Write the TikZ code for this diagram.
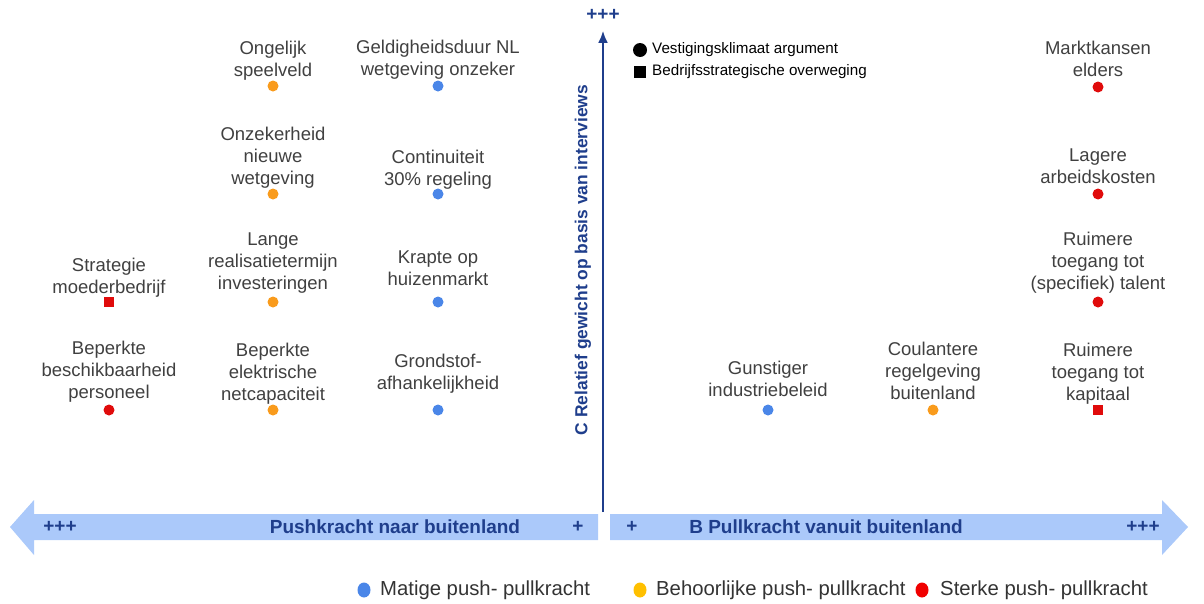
\documentclass[tikz,border=0pt]{standalone}
\usepackage{fontspec}
\setmainfont{Liberation Sans}
\usetikzlibrary{arrows.meta,shapes.geometric}
\definecolor{navy}{HTML}{1F3E8C}
\definecolor{textgray}{HTML}{404040}
\definecolor{matig}{HTML}{4A86E8}
\definecolor{behoorlijk}{HTML}{F99B1C}
\definecolor{sterk}{HTML}{E00B0B}
\definecolor{legyellow}{HTML}{FFC000}
\definecolor{legred}{HTML}{F00000}
\definecolor{arrowfill}{HTML}{ABC9FA}

\begin{document}
\begin{tikzpicture}[x=1pt,y=-1pt,
    factor/.style={anchor=south,align=center,text=textgray,inner sep=1pt,
        font=\fontsize{18.5}{22}\selectfont},
    dot/.style={circle,fill=#1,inner sep=0pt,minimum size=11pt},
    sq/.style={rectangle,fill=#1,inner sep=0pt,minimum size=10pt},
    legdot/.style={ellipse,fill=#1,inner sep=0pt,minimum width=13pt,minimum height=15pt},
    axislabel/.style={text=navy,font=\bfseries\fontsize{19}{22}\selectfont,inner sep=1pt},
    keytext/.style={anchor=west,inner sep=0pt,font=\fontsize{15.2}{17}\selectfont},
    legtext/.style={anchor=west,inner sep=0pt,text=black!80,font=\fontsize{20.3}{23}\selectfont}]
\useasboundingbox (0,0) rectangle (1204,603);

% horizontal arrows
\fill[arrowfill] (34,514) -- (598,514) -- (598,540) -- (34,540) -- (34,555) -- (10,527) -- (34,500) -- cycle;
\fill[arrowfill] (610,514) -- (1162,514) -- (1162,500) -- (1188,527) -- (1162,555) -- (1162,540) -- (610,540) -- cycle;
\node[axislabel] (lpp) at (60,527) {+++};
\node[axislabel] (push) at (395,527) {Pushkracht naar buitenland};
\node[axislabel] (lp) at (578,527) {+};
\node[axislabel] (rp) at (632,527) {+};
\node[axislabel] (pull) at (826,527) {B Pullkracht vanuit buitenland};
\node[axislabel] (rpp) at (1143,527) {+++};

% vertical axis
\coordinate (ybot) at (603,512);
\node[axislabel] (ytop) at (603,15) {+++};
\draw[navy,line width=2.4pt,-{Latex[length=12pt,width=10pt]},shorten >=9pt] (ybot) -- (ytop);
\node[axislabel,font=\bfseries\fontsize{17.4}{20}\selectfont,rotate=90] (ylab) at (583,260) {C Relatief gewicht op basis van interviews};

% key
\node[circle,fill=black,inner sep=0pt,minimum size=14pt] (kc) at (640,50) {};
\node[keytext] (kct) at (652,50) {Vestigingsklimaat argument};
\node[rectangle,fill=black,inner sep=0pt,minimum size=12pt] (ks) at (640,72) {};
\node[keytext] (kst) at (652,72) {Bedrijfsstrategische overweging};

% push factors
\node[sq=sterk] (strat) at (109,302) {};
\node[factor] at (109,298.5) {Strategie\\moederbedrijf};
\node[dot=sterk] (pers) at (109,410) {};
\node[factor] at (109,404) {Beperkte\\beschikbaarheid\\personeel};

\node[dot=behoorlijk] (speel) at (273,86) {};
\node[factor] at (273,82) {Ongelijk\\speelveld};
\node[dot=behoorlijk] (wetg) at (273,194) {};
\node[factor] at (273,190) {Onzekerheid\\nieuwe\\wetgeving};
\node[dot=behoorlijk] (real) at (273,302) {};
\node[factor] at (273,295) {Lange\\realisatietermijn\\investeringen};
\node[dot=behoorlijk] (net) at (273,410) {};
\node[factor] at (273,406) {Beperkte\\elektrische\\netcapaciteit};

\node[dot=matig] (geld) at (438,86) {};
\node[factor] at (438,81) {Geldigheidsduur NL\\wetgeving onzeker};
\node[dot=matig] (cont) at (438,194) {};
\node[factor] at (438,191) {Continuiteit\\30\% regeling};
\node[dot=matig] (huis) at (438,302) {};
\node[factor] at (438,287) {Krapte op\\huizenmarkt};
\node[dot=matig] (grond) at (438,410) {};
\node[factor] at (438,395) {Grondstof-\\afhankelijkheid};

% pull factors
\node[dot=matig] (ind) at (768,410) {};
\node[factor] at (768,397.5) {Gunstiger\\industriebeleid};
\node[dot=behoorlijk] (coul) at (933,410) {};
\node[factor] at (933,400.5) {Coulantere\\regelgeving\\buitenland};
\node[dot=sterk] (markt) at (1098,87) {};
\node[factor] at (1098,78) {Marktkansen\\elders};
\node[dot=sterk] (arb) at (1098,194) {};
\node[factor] at (1098,185) {Lagere\\arbeidskosten};
\node[dot=sterk] (tal) at (1098,302) {};
\node[factor] at (1098,295) {Ruimere\\toegang tot\\(specifiek) talent};
\node[sq=sterk] (kap) at (1098,410) {};
\node[factor] at (1098,405.5) {Ruimere\\toegang tot\\kapitaal};

% legend
\node[legdot=matig] (l1) at (364,590) {};
\node[legtext] at (380,590) {Matige push- pullkracht};
\node[legdot=legyellow] (l2) at (640,590) {};
\node[legtext] at (656,590) {Behoorlijke push- pullkracht};
\node[legdot=legred] (l3) at (922,590) {};
\node[legtext] at (940,590) {Sterke push- pullkracht};
\end{tikzpicture}
\end{document}
